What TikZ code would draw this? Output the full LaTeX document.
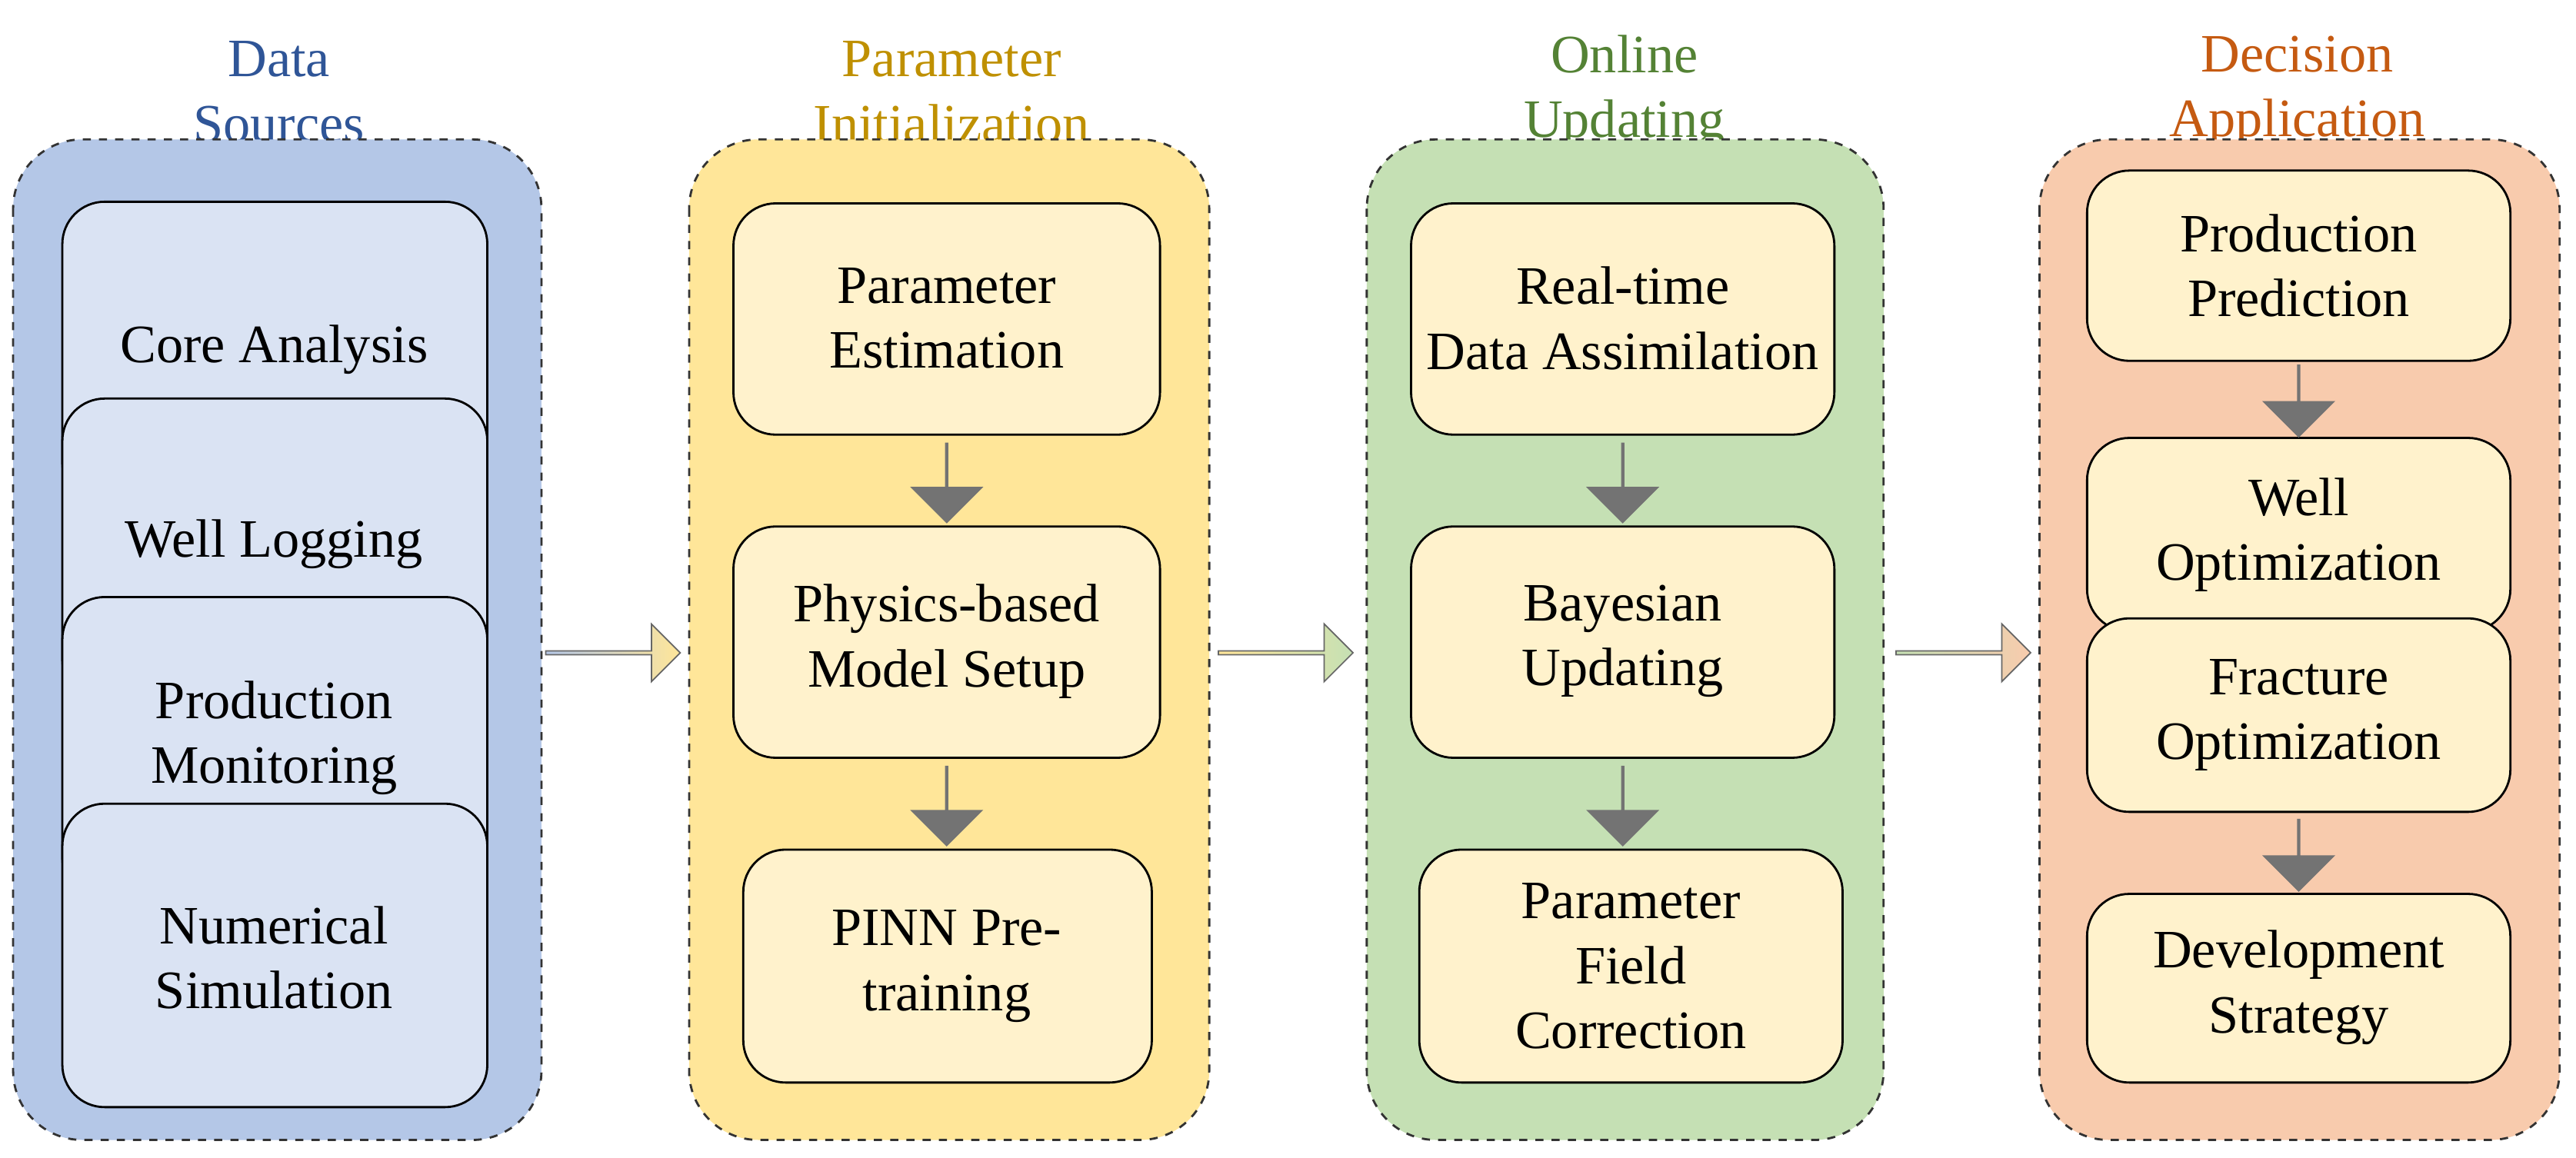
\documentclass[tikz,border=0pt]{standalone}
\usepackage{fontspec}
\setmainfont{Liberation Serif}
\usetikzlibrary{shapes.arrows,calc}
\definecolor{pb}{RGB}{180,199,231}\definecolor{ib}{RGB}{218,227,243}
\definecolor{py}{RGB}{255,230,153}\definecolor{iy}{RGB}{255,242,204}
\definecolor{pg}{RGB}{197,224,180}\definecolor{po}{RGB}{248,203,173}
\definecolor{tb}{RGB}{47,85,151}\definecolor{ty}{RGB}{191,144,0}
\definecolor{tg}{RGB}{84,130,53}\definecolor{to}{RGB}{197,90,17}
\begin{document}
\begin{tikzpicture}[x=0.02133cm,y=-0.02133cm,
 panel/.style={draw=black!80,dashed,line width=0.8pt,rounded corners=0.9cm},
 box/.style={draw=black,line width=0.8pt,rounded corners=0.55cm,fill=iy},
 bbox/.style={box,fill=ib},
 txt/.style={align=center,font=\fontsize{20}{24}\selectfont},
 ttl/.style={align=center,font=\fontsize{20}{24}\selectfont},
 dn/.style={fill=black!55,draw=none,single arrow,shape border rotate=270,minimum height=1.05cm,minimum width=0.95cm,single arrow head extend=0.15cm,inner sep=0pt},
 rt/.style={single arrow,draw=black!60,line width=0.5pt,minimum height=1.75cm,minimum width=0.75cm,single arrow head extend=0.12cm,inner sep=0pt}]
\useasboundingbox (0,0) rectangle (1570,706);
% titles
\node[ttl,text=tb] (t1) at (170,56) {Data\\Sources};
\node[ttl,text=ty] (t2) at (580,56) {Parameter\\Initialization};
\node[ttl,text=tg] (t3) at (990,56) {Online\\Updating};
\node[ttl,text=to] (t4) at (1400,56) {Decision\\Application};
% panels
\draw[panel,fill=pb] (8,85) rectangle (330,695);
\draw[panel,fill=py] (420,85) rectangle (737,695);
\draw[panel,fill=pg] (833,85) rectangle (1148,695);
\draw[panel,fill=po] (1243,85) rectangle (1560,695);
% col1
\draw[bbox] (38,123) rectangle (297,308); \node[txt] (a1) at (167,213) {Core Analysis};
\draw[bbox] (38,243) rectangle (297,428); \node[txt] (a2) at (167,332) {Well Logging};
\draw[bbox] (38,364) rectangle (297,549); \node[txt] (a3) at (167,450) {Production\\Monitoring};
\draw[bbox] (38,490) rectangle (297,675); \node[txt] (a4) at (167,584) {Numerical\\Simulation};
% col2
\draw[box] (447,124) rectangle (707,265); \node[txt] (b1) at (577,194) {Parameter\\Estimation};
\draw[box] (447,321) rectangle (707,462); \node[txt] (b2) at (577,391) {Physics-based\\Model Setup};
\draw[box] (453,518) rectangle (702,660); \node[txt] (b3) at (577,589) {PINN Pre-\\training};
\node[dn] at (577,294) {}; \node[dn] at (577,491) {};
% col3
\draw[box] (860,124) rectangle (1118,265); \node[txt] (c1) at (989,194) {Real-time\\Data Assimilation};
\draw[box] (860,321) rectangle (1118,462); \node[txt] (c2) at (989,391) {Bayesian\\Updating};
\draw[box] (865,518) rectangle (1123,660); \node[txt] (c3) at (994,589) {Parameter\\Field\\Correction};
\node[dn] at (989,294) {}; \node[dn] at (989,491) {};
% col4
\draw[box] (1272,104) rectangle (1530,220); \node[txt] (d1) at (1401,162) {Production\\Prediction};
\draw[box] (1272,267) rectangle (1530,385); \node[txt] (d2) at (1401,326) {Well\\Optimization};
\draw[box] (1272,377) rectangle (1530,495); \node[txt] (d3) at (1401,436) {Fracture\\Optimization};
\draw[box] (1272,545) rectangle (1530,660); \node[txt] (d4) at (1401,602) {Development\\Strategy};
\node[dn,minimum height=0.95cm] at (1401,244) {}; \node[dn,minimum height=0.95cm] at (1401,521) {};
% right arrows
\node[rt,left color=pb,right color=py] (r1) at (373,398) {};
\node[rt,left color=py,right color=pg] (r2) at (783,398) {};
\node[rt,left color=pg,right color=po] (r3) at (1196,398) {};
\end{tikzpicture}
\end{document}
